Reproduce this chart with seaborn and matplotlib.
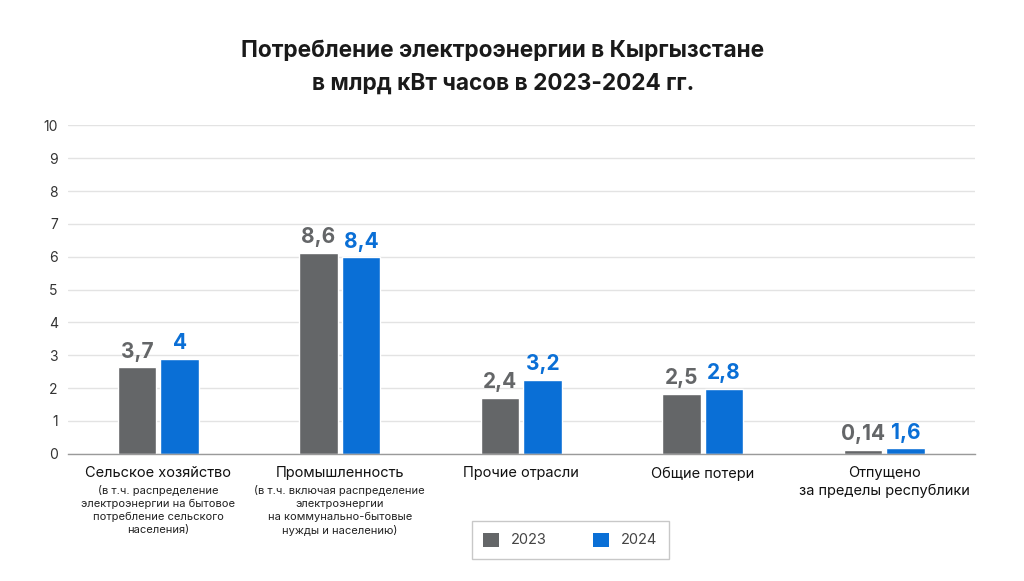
import pandas as pd
import seaborn as sns
from matplotlib import pyplot as plt
from matplotlib.patches import Patch

categories = [
    "Сельское хозяйство",
    "Промышленность",
    "Прочие отрасли",
    "Общие потери",
    "Отпущено\nза пределы республики",
]
notes = [
    "(в т.ч. распределение\nэлектроэнергии на бытовое\nпотребление сельского\nнаселения)",
    "(в т.ч. включая распределение\nэлектроэнергии\nна коммунально-бытовые\nнужды и населению)",
    "",
    "",
    "",
]
years = ["2023", "2024"]
# bar heights as drawn in the picture (they do not follow the printed values)
heights_2023 = [2.63, 6.12, 1.70, 1.82, 0.12]
heights_2024 = [2.90, 5.99, 2.26, 1.98, 0.17]
labels_2023 = ["3,7", "8,6", "2,4", "2,5", "0,14"]
labels_2024 = ["4", "8,4", "3,2", "2,8", "1,6"]

colors = {"2023": "#646668", "2024": "#0a6fd6"}

sns.set_theme(style="white")
plt.rcParams["font.family"] = ["Inter", "DejaVu Sans"]

df = pd.DataFrame({
    "category": categories * 2,
    "year": [years[0]] * len(categories) + [years[1]] * len(categories),
    "value": heights_2023 + heights_2024,
    "label": labels_2023 + labels_2024,
})

fig = plt.figure(figsize=(10.24, 5.81), dpi=100)
ax = fig.add_axes([0.066, 0.219, 0.886, 0.565])

sns.barplot(data=df, x="category", y="value", hue="year", order=categories,
            hue_order=years, palette=colors, width=0.47, gap=0.1,
            saturation=1, legend=False, ax=ax)

for container, year in zip(ax.containers, years):
    labels = df[df["year"] == year]["label"].tolist()
    ax.bar_label(container, labels=labels, padding=4, fontsize=15,
                 fontweight="bold", color=colors[year])

ax.set_ylim(0, 10)
ax.set_xlim(-0.5, len(categories) - 0.5)
ax.set_yticks(range(0, 11))
ax.yaxis.grid(True, color="#e3e3e3", linewidth=1)
ax.set_axisbelow(True)
for side in ["top", "right", "left"]:
    ax.spines[side].set_visible(False)
ax.spines["bottom"].set_color("#9a9a9a")
ax.spines["bottom"].set_linewidth(1)

ax.tick_params(axis="y", length=0, labelsize=10, labelcolor="#333333", pad=7)
ax.tick_params(axis="x", length=0, labelsize=10.5, labelcolor="#111111", pad=9)
ax.set_xticks(range(len(categories)))
ax.set_xticklabels(categories, linespacing=1.3)
ax.set_xticks([i - 0.5 for i in range(len(categories) + 1)], minor=True)
ax.tick_params(axis="x", which="minor", length=4, color="#9a9a9a", direction="out")
ax.set_xlabel("")
ax.set_ylabel("")

for i, note in enumerate(notes):
    if note:
        ax.text(i, -0.095, note, transform=ax.get_xaxis_transform(), ha="center",
                va="top", fontsize=8, color="#222222", linespacing=1.35)

fig.text(0.491, 0.884, "Потребление электроэнергии в Кыргызстане\nв млрд кВт часов в 2023-2024 гг.",
         ha="center", va="center", fontsize=16.3, fontweight="bold", color="#1a1a1a",
         linespacing=1.6)

handles = [Patch(facecolor=colors[y], edgecolor="none") for y in years]
leg = fig.legend(handles, years, loc="center", bbox_to_anchor=(0.557, 0.0706), ncol=2,
                 frameon=True, fancybox=False, fontsize=10.5, handlelength=1.1,
                 handleheight=1.1, columnspacing=3.2, handletextpad=0.8,
                 borderpad=0.8, borderaxespad=0)
leg.get_frame().set_edgecolor("#bbbbbb")
leg.get_frame().set_linewidth(1)
for t in leg.get_texts():
    t.set_color("#444444")

fig.savefig("out.png", dpi=100)
